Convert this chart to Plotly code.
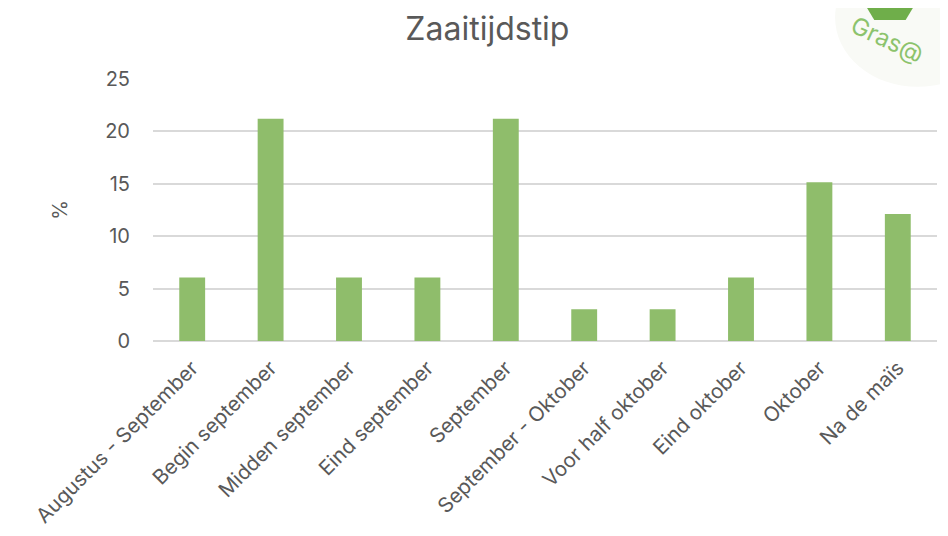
import plotly.graph_objects as go

categories = ["Augustus - September", "Begin september", "Midden september", "Eind september",
              "September", "September - Oktober", "Voor half oktober", "Eind oktober",
              "Oktober", "Na de maïs"]
percentages = [6.06, 21.21, 6.06, 6.06, 21.21, 3.03, 3.03, 6.06, 15.15, 12.12]
y_ticks = [0, 5, 10, 15, 20, 25]

grey = "#595959"

bars = go.Bar(x=categories, y=percentages, marker=dict(color="#8fbd6b", line=dict(width=0)))

# page has 8px body margin, so the figure is a bit smaller than the window
layout = go.Layout(
    width=940, height=528,
    paper_bgcolor="white", plot_bgcolor="white",
    font=dict(family="Inter, Open Sans, sans-serif", color=grey, size=19),
    title=dict(text="Zaaitijdstip", x=0.51, xanchor="center", y=0.96, yanchor="middle",
               font=dict(size=32, color=grey)),
    margin=dict(l=145, r=11, t=71, b=195),
    bargap=0.67,
    showlegend=False,
    xaxis=dict(tickangle=-45, showgrid=False, showline=False, ticks="", automargin=False,
               tickfont=dict(size=20.5), ticklabelstandoff=10),
    yaxis=dict(range=[0, 25], tickvals=y_ticks, gridcolor="#d9d9d9", gridwidth=1.5,
               zeroline=True, zerolinecolor="#d9d9d9", zerolinewidth=1.5, automargin=False,
               tickfont=dict(size=20), ticklabelstandoff=22,
               title=dict(text="%", font=dict(size=20), standoff=32)),
)

fig = go.Figure(data=[bars], layout=layout)

# logo fragment in the corner
fig.add_shape(type="circle", xref="paper", yref="paper", x0=0.87, x1=1.08, y0=0.97, y1=1.5,
              fillcolor="#f9faf6", line=dict(width=0), layer="below")
fig.add_shape(type="path", xref="paper", yref="paper",
              path="M 0.91 1.275 L 0.97 1.275 L 0.96 1.225 L 0.92 1.225 Z",
              fillcolor="#6fae4a", line=dict(width=0))
fig.add_annotation(text="Gras@", xref="paper", yref="paper", x=0.936, y=1.15,
                   xanchor="center", yanchor="middle",
                   showarrow=False, textangle=25, font=dict(size=24, color="#8cc36c"))

fig.write_html("out.html")
